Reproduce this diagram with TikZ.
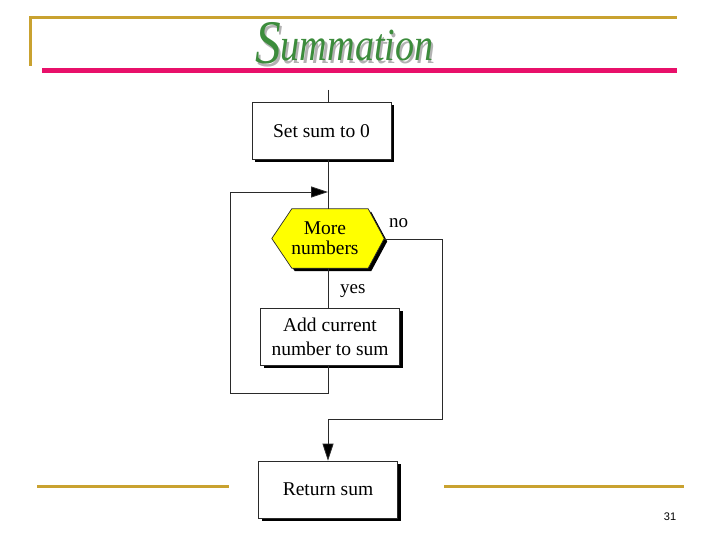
\documentclass[tikz,border=0pt]{standalone}
\usepackage{fontspec}
\setmainfont{Liberation Serif}
\newfontfamily\numfont{Liberation Sans}
\usetikzlibrary{arrows.meta,shadows}
\definecolor{gold}{HTML}{C9A230}
\definecolor{pinkbar}{HTML}{E8106A}
\definecolor{titlegreen}{HTML}{3C8C3C}
\definecolor{linegray}{HTML}{2A2A2A}
\definecolor{hexyellow}{HTML}{FFFF00}
\newcommand{\titletext}{\itshape\raisebox{-3pt}{\fontsize{62}{62}\selectfont S}\fontsize{46}{46}\selectfont ummation}
\tikzset{
  flowbox/.style={draw=linegray, line width=0.7pt, fill=white, inner sep=0pt,
    minimum width=139pt, minimum height=57pt, align=center,
    font=\fontsize{19.5}{24}\selectfont,
    drop shadow={shadow xshift=3pt, shadow yshift=-3pt, opacity=1, fill=black}},
  conn/.style={draw=linegray, line width=0.8pt},
  arr/.style={conn, -{Triangle[length=17pt,width=11pt,fill=black]}},
  goldline/.style={draw=gold, line width=3pt},
  lbl/.style={font=\fontsize{19}{20}\selectfont, inner sep=0pt}
}
\begin{document}
\begin{tikzpicture}[x=1pt,y=-1pt]
\useasboundingbox (0,0) rectangle (720,540);
\fill[white] (0,0) rectangle (720,540);
% header decoration
\draw[goldline] (30,66) -- (30,18) -- (677,18);
\draw[draw=pinkbar, line width=5pt] (42,71) -- (677,71);
\draw[goldline] (37,486) -- (229,486);
\draw[goldline] (444,486) -- (684,486);
% title with shadow
\node[anchor=base west, inner sep=0pt, xscale=0.83] (title) at (255,61)
  {\makebox[0pt][l]{\hspace{2.5pt}\raisebox{-2.5pt}{\color{gray!60}\titletext}}{\color{titlegreen}\titletext}};
% page number
\node[anchor=base, inner sep=0pt, font=\numfont\fontsize{11}{11}\selectfont] (pg) at (670,520) {31};
% flowchart
\coordinate (c) at (328,0);
\coordinate (top) at (328,90);
\node[flowbox] (b1) at (321.5,131) {Set sum to 0};
\node[flowbox] (b2) at (330,336.5) {Add current\\number to sum};
\node[flowbox] (b3) at (328,489.5) {Return sum};
% hexagon decision
\node[minimum width=112pt, minimum height=59pt, inner sep=0pt] (more) at (328,238.5) {};
\fill[black] ([shift={(3,3)}]more.west) -- ([shift={(23,3)}]more.north west) -- ([shift={(-13,3)}]more.north east)
  -- ([shift={(3,3)}]more.east) -- ([shift={(-13,3)}]more.south east) -- ([shift={(23,3)}]more.south west) -- cycle;
\filldraw[draw=linegray, line width=0.7pt, fill=hexyellow] (more.west) -- ([xshift=20pt]more.north west) -- ([xshift=-16pt]more.north east)
  -- (more.east) -- ([xshift=-16pt]more.south east) -- ([xshift=20pt]more.south west) -- cycle;
\node[align=center, font=\fontsize{19.5}{19.5}\selectfont, inner sep=0pt] (moretxt) at (325,238) {More\\numbers};
% connectors
\draw[conn] (top) -- (top |- b1.north);
\draw[conn] (b1.south -| c) -- (more.north -| c);
\draw[conn] (more.south -| c) -- (b2.north -| c);
\coordinate (l1) at (328,393);
\coordinate (l2) at (230,393);
\coordinate (l3) at (230,192);
\coordinate (l4) at (328,192);
\draw[conn] (b2.south -| c) -- (l1) -- (l2) -- (l3);
\draw[arr] (l3) -- (l4);
\coordinate (n1) at (442,239);
\coordinate (n2) at (442,419);
\coordinate (n3) at (328,419);
\draw[conn] (384,239) -- (n1) -- (n2) -- (n3);
\draw[arr] (n3) -- (b3.north -| c);
% labels
\node[lbl, anchor=base west] (no) at (389,227) {no};
\node[lbl, anchor=base west] (yes) at (340,293) {yes};
\end{tikzpicture}
\end{document}
